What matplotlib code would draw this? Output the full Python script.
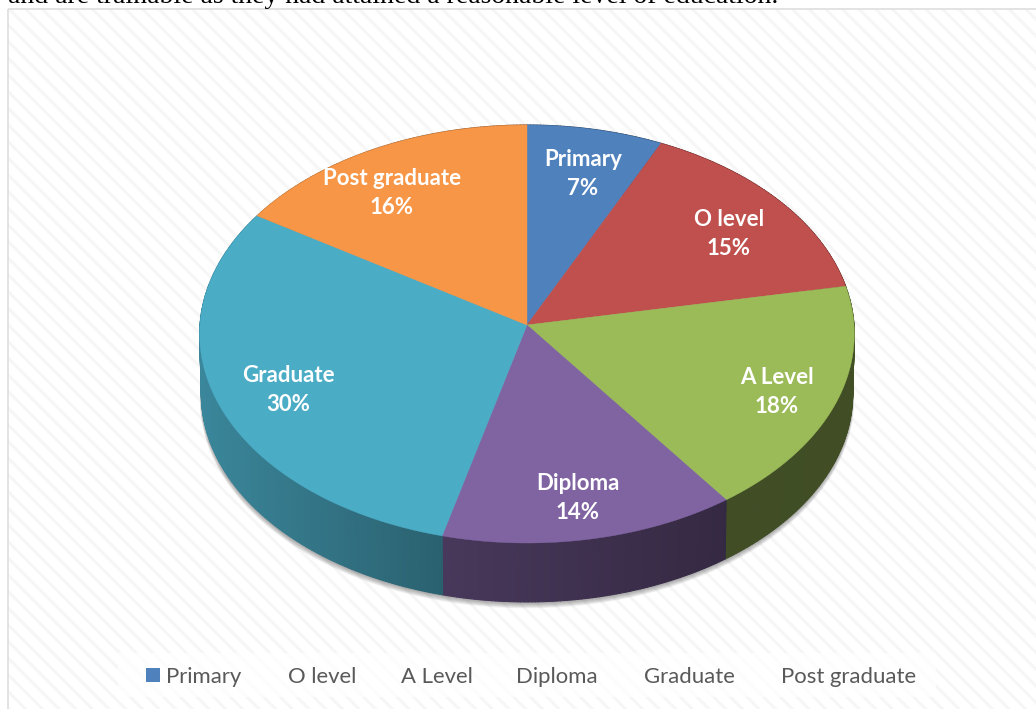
import numpy as np
import matplotlib
matplotlib.use("Agg")
import matplotlib.pyplot as plt
from matplotlib.patches import Polygon, Rectangle
from matplotlib.collections import PolyCollection

categories = ["Primary", "O level", "A Level", "Diploma", "Graduate", "Post graduate"]
shares = [7, 15, 18, 14, 30, 16]
colors = ["#4F81BD", "#C0504D", "#9BBB59", "#8064A2", "#4BACC6", "#F79646"]
label_xy = [(583, 174), (729, 234), (777, 392), (578, 498), (288, 390), (392, 193)]
legend_x = [166, 288, 401, 516, 644, 781]
caption = "and are trainable as they had attained a reasonable level of education."

CX, CY = 527, 325
RX, RY = 327, 208.6
PERSP = 0.0431
DEPTH = 60
WALL_SCALE = 0.995


def rim(theta, scale=1.0, drop=0.0):
    # theta runs clockwise from 12 o'clock, the far side of the disc comes out smaller
    u, v = np.sin(theta), np.cos(theta)
    w = 1 + PERSP * v
    return np.column_stack((CX + scale * RX * u / w, CY + drop - scale * RY * v / w))


def wall_shade(x):
    return np.interp(x, [200, 447, 725, 853], [0.78, 0.56, 0.41, 0.42])


fig = plt.figure(figsize=(10.36, 7.09), dpi=100)
ax = fig.add_axes([0, 0, 1, 1])
ax.set_xlim(0, 1036)
ax.set_ylim(709, 0)
ax.axis("off")

# striped chart area
plt.rcParams["hatch.linewidth"] = 2.1
ax.add_patch(Rectangle((7.5, 8.5), 1040, 720, facecolor="white", edgecolor="#F6F6F6",
                       hatch="\\\\", lw=0, zorder=1))
ax.add_patch(Rectangle((7.5, 8.5), 1040, 720, fill=False, edgecolor="#DEDEDE", lw=1.2, zorder=1.5))

ax.text(8, 3, caption, family="Liberation Serif", fontsize=20, color="black",
        ha="left", va="baseline", zorder=2)

# legend band
ax.add_patch(Rectangle((118, 653), 818, 44, facecolor="white", alpha=0.75, lw=0, zorder=2))
ax.add_patch(Rectangle((146, 668), 14, 14, facecolor=colors[0], lw=0, zorder=3))
for name, x in zip(categories, legend_x):
    ax.text(x, 675, name, family="Lato", fontsize=15.9, color="#595959", ha="left",
            va="center_baseline", zorder=3)

# soft shadow below the disc
circle = np.linspace(0, 2 * np.pi, 361)
for spread in np.linspace(9, 1, 9):
    outline = rim(circle, WALL_SCALE + spread * 0.0005, DEPTH + spread * 0.6)
    ax.add_patch(Polygon(outline, closed=True, facecolor="#505050", alpha=0.07, lw=0, zorder=3))

edges = np.cumsum([0] + shares) / sum(shares) * 2 * np.pi

# side wall, split into thin strips so the shading runs along it
quads = []
quad_colors = []
for i, color in enumerate(colors):
    steps = np.linspace(edges[i], edges[i + 1], max(2, shares[i] * 6))
    upper = rim(steps)
    lower = rim(steps, WALL_SCALE, DEPTH)
    base = np.array(matplotlib.colors.to_rgb(color))
    for j in range(len(steps) - 1):
        quads.append([upper[j], upper[j + 1], lower[j + 1], lower[j]])
        quad_colors.append(base * wall_shade((upper[j, 0] + upper[j + 1, 0]) / 2))
ax.add_collection(PolyCollection(quads, facecolors=quad_colors, edgecolors=quad_colors,
                                 linewidths=0.8, zorder=4))

# top face
for i, color in enumerate(colors):
    steps = np.linspace(edges[i], edges[i + 1], shares[i] * 8)
    outline = np.vstack(([CX, CY], rim(steps)))
    ax.add_patch(Polygon(outline, closed=True, facecolor=color, edgecolor=color, lw=0.3, zorder=5))

for name, share, (x, y) in zip(categories, shares, label_xy):
    ax.text(x, y, f"{name}\n{share}%", family="Lato", weight="bold", fontsize=16, color="white",
            ha="center", va="center", linespacing=1.5, zorder=6)

fig.savefig("out.png", dpi=100)
